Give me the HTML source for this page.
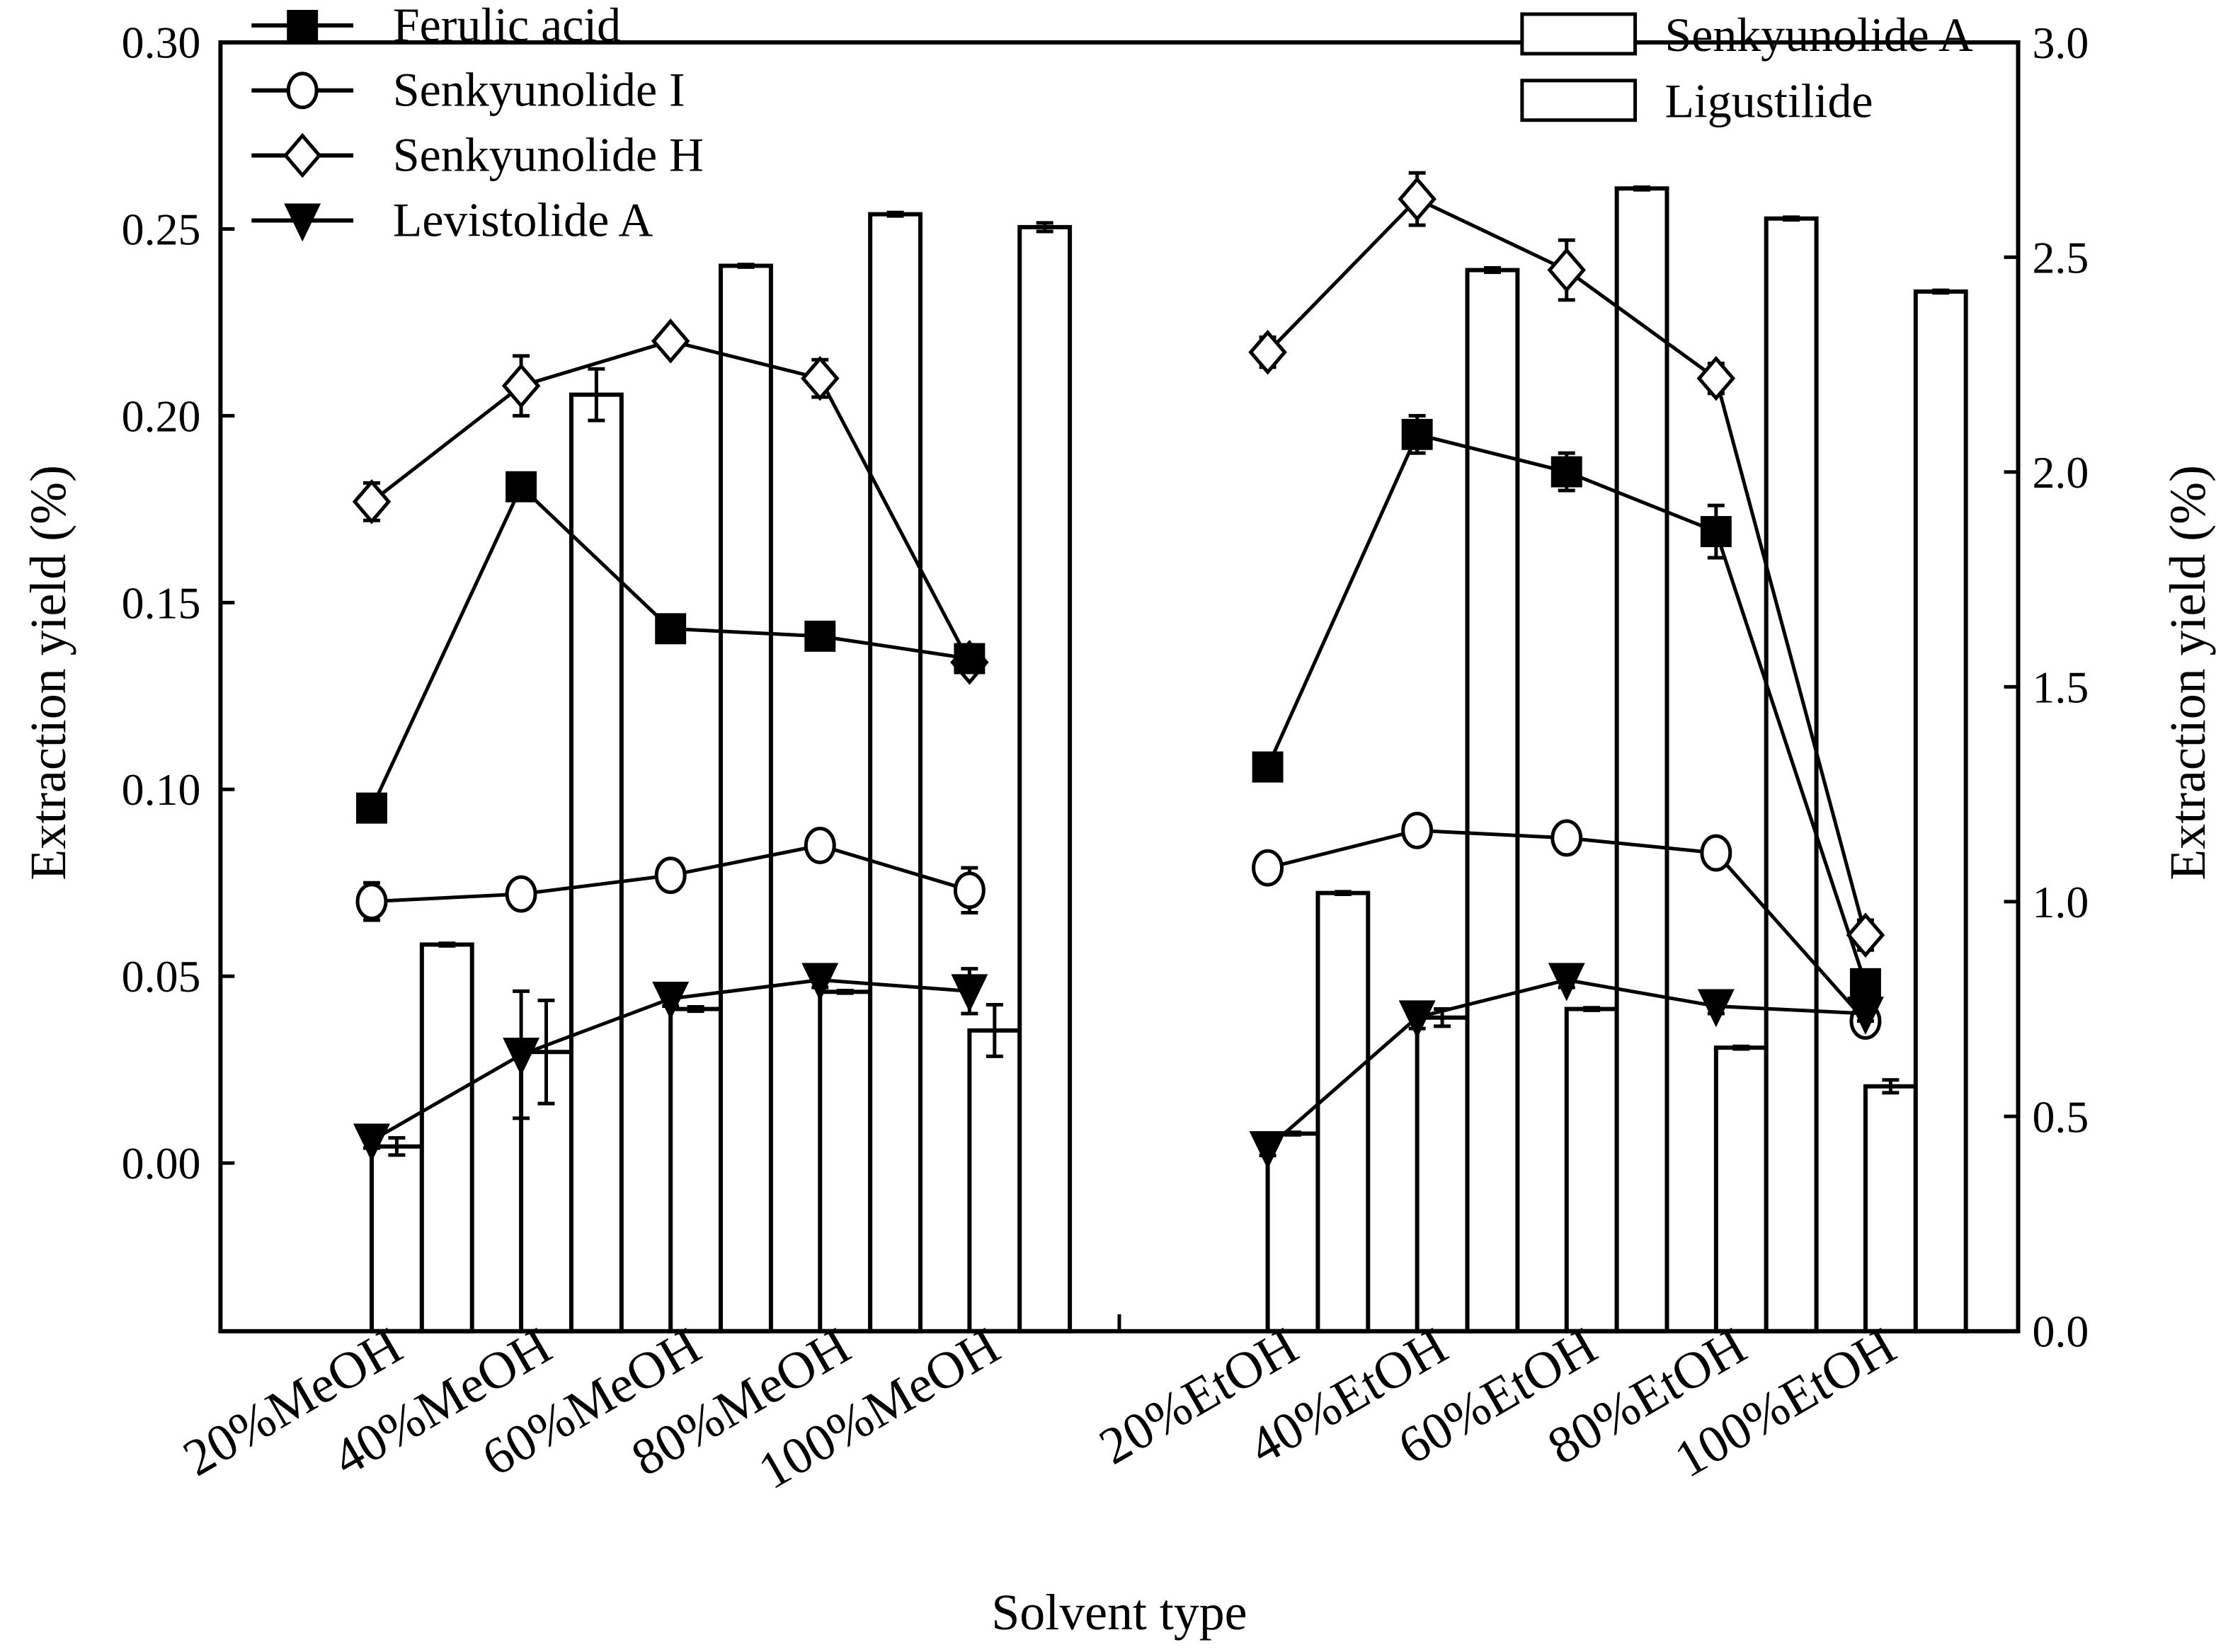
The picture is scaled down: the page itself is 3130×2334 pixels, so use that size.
<!DOCTYPE html>
<html><head><meta charset="utf-8"><style>
html,body{margin:0;padding:0;background:#fff}
svg{display:block}
text{font-family:"Liberation Serif",serif;fill:#000}
</style></head><body>
<svg id="chart" width="3130" height="2334" viewBox="0 0 1568 1169" preserveAspectRatio="none" xmlns="http://www.w3.org/2000/svg">
<g id="bars"></g>
<g id="lines"></g>
<g id="axes"></g>
<g id="legend"></g>
</svg>
<script>
const categories = ["20%MeOH","40%MeOH","60%MeOH","80%MeOH","100%MeOH","20%EtOH","40%EtOH","60%EtOH","80%EtOH","100%EtOH"];
const senkyunolideA = [0.43,0.65,0.75,0.79,0.70,0.46,0.73,0.75,0.66,0.57];
const senkyunolideAErr = [0.02,0.12,0.005,0.003,0.06,0.003,0.02,0.003,0.003,0.015];
const ligustilide = [0.90,2.18,2.48,2.60,2.57,1.02,2.47,2.66,2.59,2.42];
const ligustilideErr = [0.003,0.06,0.003,0.004,0.01,0.003,0.005,0.003,0.003,0.003];
const ferulic = [0.095,0.181,0.143,0.141,0.135,0.106,0.195,0.185,0.169,0.048];
const ferulicErr = [0.002,0.002,0.002,0.003,0.002,0.002,0.005,0.005,0.007,0.003];
const senI = [0.070,0.072,0.077,0.085,0.073,0.079,0.089,0.087,0.083,0.038];
const senIErr = [0.005,0.003,0.002,0.002,0.006,0.002,0.002,0.002,0.002,0.002];
const senH = [0.177,0.208,0.220,0.210,0.134,0.217,0.258,0.239,0.210,0.061];
const senHErr = [0.005,0.008,0.002,0.005,0.002,0.004,0.007,0.008,0.004,0.004];
const levA = [0.006,0.029,0.044,0.049,0.046,0.004,0.039,0.049,0.042,0.040];
const levAErr = [0.002,0.017,0.002,0.002,0.006,0.002,0.003,0.002,0.002,0.002];
const leftTicks = ["0.00","0.05","0.10","0.15","0.20","0.25","0.30"];
const rightTicks = ["0.0","0.5","1.0","1.5","2.0","2.5","3.0"];

const NS="http://www.w3.org/2000/svg";
const L=156,R=1428,T=30,B=942;
function yL(v){return 823 - v*2644;}
function yR(v){return 942 - v*304;}
function xC(i){return i<5 ? 263 + i*105.75 : 897 + (i-5)*105.75;}
const BW=35.5;
function mk(tag,attrs,parent){const e=document.createElementNS(NS,tag);for(const k in attrs)e.setAttribute(k,attrs[k]);parent.appendChild(e);return e;}
const gB=document.getElementById('bars'),gL=document.getElementById('lines'),gA=document.getElementById('axes'),gG=document.getElementById('legend');
const stroke={stroke:"#000","stroke-width":3,fill:"none"};
function errbar(g,x,y1,y2,cap){mk('line',{x1:x,x2:x,y1:y1,y2:y2,stroke:"#000","stroke-width":2.5},g);
 mk('line',{x1:x-cap,x2:x+cap,y1:y1,y2:y1,stroke:"#000","stroke-width":2.5},g);
 mk('line',{x1:x-cap,x2:x+cap,y1:y2,y2:y2,stroke:"#000","stroke-width":2.5},g);}

categories.forEach((c,i)=>{
 const x=xC(i);
 const a=mk('rect',{x:x,y:yR(senkyunolideA[i]),width:BW,height:B-yR(senkyunolideA[i]),fill:"#fff",stroke:"#000","stroke-width":3},gB);
 
 
 const b=mk('rect',{x:x+BW,y:yR(ligustilide[i]),width:BW,height:B-yR(ligustilide[i]),fill:"#fff",stroke:"#000","stroke-width":3},gB);
 
 
 errbar(gB,x+BW/2,yR(senkyunolideA[i]+senkyunolideAErr[i]),yR(senkyunolideA[i]-senkyunolideAErr[i]),6);
 errbar(gB,x+BW*1.5,yR(ligustilide[i]+ligustilideErr[i]),yR(ligustilide[i]-ligustilideErr[i]),6);
});

function marker(g,type,x,y){
 if(type==='square') return mk('rect',{x:x-11,y:y-11,width:22,height:22,fill:"#000"},g);
 if(type==='circle') return mk('ellipse',{cx:x,cy:y,rx:10,ry:12,fill:"#fff",stroke:"#000","stroke-width":2.5},g);
 if(type==='diamond') return mk('polygon',{points:`${x},${y-14} ${x+12},${y} ${x},${y+14} ${x-12},${y}`,fill:"#fff",stroke:"#000","stroke-width":2.5},g);
 return mk('polygon',{points:`${x-13},${y-12} ${x+13},${y-12} ${x},${y+15}`,fill:"#000"},g);
}
function series(vals,errs,type,name){
 const g=mk('g',{},gL);
 
 
 [[0,5],[5,10]].forEach(([s,e])=>{
  const pts=[];for(let i=s;i<e;i++)pts.push(xC(i)+','+yL(vals[i]));
  mk('polyline',{points:pts.join(' '),...stroke,"stroke-width":2.5},g);
 });
 vals.forEach((v,i)=>{
  errbar(g,xC(i),yL(v+errs[i]),yL(v-errs[i]),6);
  const m=marker(g,type,xC(i),yL(v));
  
  
 });
}
series(senH,senHErr,'diamond','senkyunolide-h-line');
series(ferulic,ferulicErr,'square','ferulic-acid-line');
series(senI,senIErr,'circle','senkyunolide-i-line');
series(levA,levAErr,'triangle','levistolide-a-line');

mk('rect',{x:L,y:T,width:R-L,height:B-T,fill:"none",stroke:"#000","stroke-width":3},gA);
mk('line',{x1:792,x2:792,y1:B,y2:B-12,stroke:"#000","stroke-width":2.5},gA);
leftTicks.forEach((t,i)=>{const y=yL(i*0.05);
 mk('line',{x1:L,x2:L+10,y1:y,y2:y,stroke:"#000","stroke-width":2.5},gA);
 const e=mk('text',{x:L-14,y:y+11,"text-anchor":"end","font-size":32},gA);e.textContent=t;
 
 });
rightTicks.forEach((t,i)=>{const y=yR(i*0.5);
 mk('line',{x1:R,x2:R-10,y1:y,y2:y,stroke:"#000","stroke-width":2.5},gA);
 const e=mk('text',{x:R+10,y:y+11,"text-anchor":"start","font-size":32},gA);e.textContent=t;
 
 });
categories.forEach((c,i)=>{const x=xC(i)+24,y=960;
 const e=mk('text',{x:x,y:y,"text-anchor":"end","font-size":37,transform:`rotate(-30 ${x} ${y})`},gA);e.textContent=c;
 
 });
let t=mk('text',{x:792,y:1153,"text-anchor":"middle","font-size":36},gA);t.textContent="Solvent type";

t=mk('text',{x:46,y:476,"text-anchor":"middle","font-size":36,transform:"rotate(-90 46 476)"},gA);t.textContent="Extraction yield (%)";

t=mk('text',{x:1560,y:476,"text-anchor":"middle","font-size":36,transform:"rotate(-90 1560 476)"},gA);t.textContent="Extraction yield (%)";


[["Ferulic acid",'square',18],["Senkyunolide I",'circle',64],["Senkyunolide H",'diamond',110],["Levistolide A",'triangle',156]].forEach(([n,ty,y])=>{
 const g=mk('g',{},gG);
 
 
 mk('line',{x1:178,x2:250,y1:y,y2:y,stroke:"#000","stroke-width":3},g);
 marker(g,ty,214,y);
 const e=mk('text',{x:278,y:y+11,"font-size":34},g);e.textContent=n;
});
[["Senkyunolide A",10],["Ligustilide",57]].forEach(([n,y])=>{
 const g=mk('g',{},gG);
 
 
 mk('rect',{x:1077,y:y,width:80,height:28,fill:"#fff",stroke:"#000","stroke-width":2.5},g);
 const e=mk('text',{x:1178,y:y+26,"font-size":34},g);e.textContent=n;
});
</script>
</body></html>
